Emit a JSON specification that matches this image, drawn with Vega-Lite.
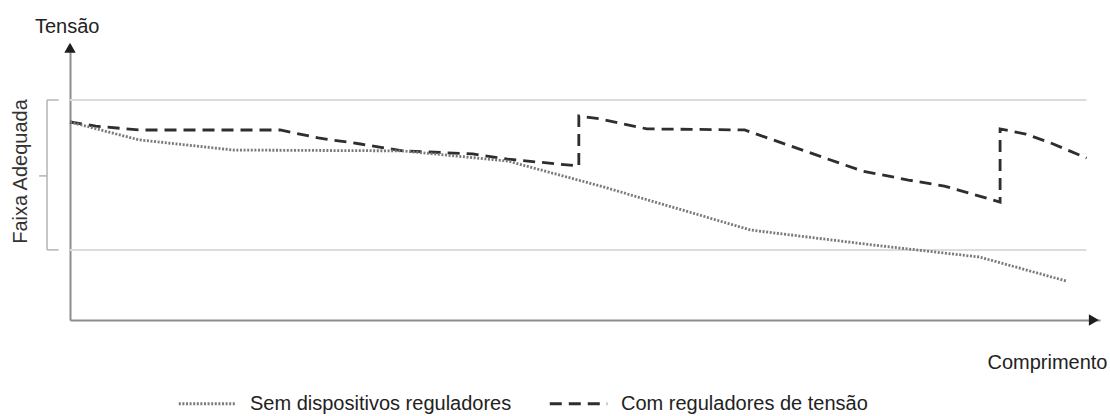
{
  "$schema": "https://vega.github.io/schema/vega-lite/v6.json",
  "width": 1030,
  "height": 275,
  "autosize": {"type": "none"},
  "padding": {"left": 70, "top": 45, "right": 10, "bottom": 96},
  "background": "white",
  "config": {
    "view": {"stroke": null},
    "font": "Liberation Sans",
    "axis": {"domainColor": "#8c8c8c", "domainWidth": 2, "ticks": false, "labels": false, "grid": false, "titleFontSize": 20, "titleFontWeight": "normal", "titleColor": "#222"}
  },
  "title": {"text": "Tensão", "anchor": "start", "frame": "group", "fontSize": 20, "fontWeight": "normal", "color": "#222", "dx": -35, "offset": 6},
  "datasets": {
    "curvas": [
      {"serie": "Com reguladores de tensão", "ordem": 0, "comprimento": 0, "tensao": 72.0},
      {"serie": "Com reguladores de tensão", "ordem": 1, "comprimento": 2.5, "tensao": 70.5},
      {"serie": "Com reguladores de tensão", "ordem": 2, "comprimento": 6.7, "tensao": 69.1},
      {"serie": "Com reguladores de tensão", "ordem": 3, "comprimento": 20.4, "tensao": 69.1},
      {"serie": "Com reguladores de tensão", "ordem": 4, "comprimento": 24.1, "tensao": 66.2},
      {"serie": "Com reguladores de tensão", "ordem": 5, "comprimento": 28.2, "tensao": 64.0},
      {"serie": "Com reguladores de tensão", "ordem": 6, "comprimento": 32.3, "tensao": 61.5},
      {"serie": "Com reguladores de tensão", "ordem": 7, "comprimento": 39.1, "tensao": 60.4},
      {"serie": "Com reguladores de tensão", "ordem": 8, "comprimento": 42.5, "tensao": 58.5},
      {"serie": "Com reguladores de tensão", "ordem": 9, "comprimento": 49.4, "tensao": 56.0},
      {"serie": "Com reguladores de tensão", "ordem": 10, "comprimento": 49.4, "tensao": 74.2},
      {"serie": "Com reguladores de tensão", "ordem": 11, "comprimento": 51.5, "tensao": 73.1},
      {"serie": "Com reguladores de tensão", "ordem": 12, "comprimento": 56.0, "tensao": 69.5},
      {"serie": "Com reguladores de tensão", "ordem": 13, "comprimento": 65.5, "tensao": 69.1},
      {"serie": "Com reguladores de tensão", "ordem": 14, "comprimento": 76.9, "tensao": 54.2},
      {"serie": "Com reguladores de tensão", "ordem": 15, "comprimento": 81.4, "tensao": 50.9},
      {"serie": "Com reguladores de tensão", "ordem": 16, "comprimento": 84.9, "tensao": 48.7},
      {"serie": "Com reguladores de tensão", "ordem": 17, "comprimento": 90.3, "tensao": 42.9},
      {"serie": "Com reguladores de tensão", "ordem": 18, "comprimento": 90.3, "tensao": 69.5},
      {"serie": "Com reguladores de tensão", "ordem": 19, "comprimento": 92.8, "tensao": 67.6},
      {"serie": "Com reguladores de tensão", "ordem": 20, "comprimento": 95.2, "tensao": 64.4},
      {"serie": "Com reguladores de tensão", "ordem": 21, "comprimento": 98.7, "tensao": 58.9},
      {"serie": "Sem dispositivos reguladores", "ordem": 0, "comprimento": 0, "tensao": 72.0},
      {"serie": "Sem dispositivos reguladores", "ordem": 1, "comprimento": 6.7, "tensao": 65.5},
      {"serie": "Sem dispositivos reguladores", "ordem": 2, "comprimento": 15.9, "tensao": 61.8},
      {"serie": "Sem dispositivos reguladores", "ordem": 3, "comprimento": 32.3, "tensao": 61.5},
      {"serie": "Sem dispositivos reguladores", "ordem": 4, "comprimento": 42.5, "tensao": 57.8},
      {"serie": "Sem dispositivos reguladores", "ordem": 5, "comprimento": 51.5, "tensao": 48.7},
      {"serie": "Sem dispositivos reguladores", "ordem": 6, "comprimento": 66.1, "tensao": 32.7},
      {"serie": "Sem dispositivos reguladores", "ordem": 7, "comprimento": 77.9, "tensao": 27.3},
      {"serie": "Sem dispositivos reguladores", "ordem": 8, "comprimento": 88.3, "tensao": 22.9},
      {"serie": "Sem dispositivos reguladores", "ordem": 9, "comprimento": 96.7, "tensao": 14.2}
    ],
    "faixa": [
      {"limite": "inferior", "tensao": 25.5},
      {"limite": "superior", "tensao": 80}
    ],
    "faixa_intervalo": [
      {"minimo": 25.5, "maximo": 80, "centro": 52.4}
    ]
  },
  "layer": [
    {
      "data": {"name": "faixa"},
      "mark": {"type": "rule", "color": "#dcdcdc", "strokeWidth": 2},
      "encoding": {
        "y": {"field": "tensao", "type": "quantitative"},
        "x": {"datum": 0},
        "x2": {"datum": 98.7}
      }
    },
    {
      "data": {"name": "curvas"},
      "mark": {"type": "line", "strokeWidth": 2.8, "strokeCap": "butt"},
      "encoding": {
        "x": {
          "field": "comprimento", "type": "quantitative",
          "scale": {"domain": [0, 100], "nice": false, "zero": false},
          "axis": {
            "title": "Comprimento",
            "titleX": 1037, "titleY": 48, "titleAlign": "right", "titleBaseline": "alphabetic"
          }
        },
        "y": {
          "field": "tensao", "type": "quantitative",
          "scale": {"domain": [0, 100], "nice": false, "zero": false},
          "axis": {
            "title": "Faixa Adequada", "titleColor": "#333",
            "titleX": -50, "titleY": 126, "titleAngle": 270, "titleAlign": "center", "titleBaseline": "middle"
          }
        },
        "color": {
          "field": "serie", "type": "nominal",
          "scale": {"domain": ["Sem dispositivos reguladores", "Com reguladores de tensão"], "range": ["#7a7a7a", "#2e2e2e"]},
          "legend": {
            "title": null, "orient": "none", "legendX": 107, "legendY": 328,
            "direction": "horizontal", "symbolType": "stroke", "symbolSize": 3300,
            "symbolStrokeWidth": 2.8, "labelFontSize": 20, "labelColor": "#222",
            "labelOffset": 12, "columnPadding": 32, "labelLimit": 400
          }
        },
        "strokeDash": {
          "field": "serie", "type": "nominal",
          "scale": {"domain": ["Sem dispositivos reguladores", "Com reguladores de tensão"], "range": [[2, 1.6], [12, 7]]}
        },
        "order": {"field": "ordem", "type": "quantitative"}
      }
    },
    {
      "data": {"name": "faixa_intervalo"},
      "mark": {"type": "rule", "color": "#b4b4b4", "strokeWidth": 1.5},
      "encoding": {
        "x": {"datum": -2.23},
        "y": {"field": "minimo", "type": "quantitative"},
        "y2": {"field": "maximo"}
      }
    },
    {
      "data": {"name": "faixa_intervalo"},
      "mark": {"type": "rule", "color": "#b4b4b4", "strokeWidth": 1.5},
      "encoding": {
        "x": {"datum": -2.23},
        "x2": {"datum": -1.1},
        "y": {"field": "minimo", "type": "quantitative"}
      }
    },
    {
      "data": {"name": "faixa_intervalo"},
      "mark": {"type": "rule", "color": "#b4b4b4", "strokeWidth": 1.5},
      "encoding": {
        "x": {"datum": -2.23},
        "x2": {"datum": -1.1},
        "y": {"field": "maximo", "type": "quantitative"}
      }
    },
    {
      "data": {"name": "faixa_intervalo"},
      "mark": {"type": "rule", "color": "#b4b4b4", "strokeWidth": 1.5},
      "encoding": {
        "x": {"datum": -3.0},
        "x2": {"datum": -2.23},
        "y": {"field": "centro", "type": "quantitative"}
      }
    },
    {
      "data": {"values": [{"eixo": "Tensão"}]},
      "mark": {"type": "point", "shape": "triangle-up", "filled": true, "color": "#1e1e1e", "size": 130, "opacity": 1},
      "encoding": {
        "x": {"datum": 0},
        "y": {"datum": 99}
      }
    },
    {
      "data": {"values": [{"eixo": "Comprimento"}]},
      "mark": {"type": "point", "shape": "triangle-right", "filled": true, "color": "#1e1e1e", "size": 130, "opacity": 1},
      "encoding": {
        "x": {"datum": 99.4},
        "y": {"datum": 0}
      }
    }
  ]
}
